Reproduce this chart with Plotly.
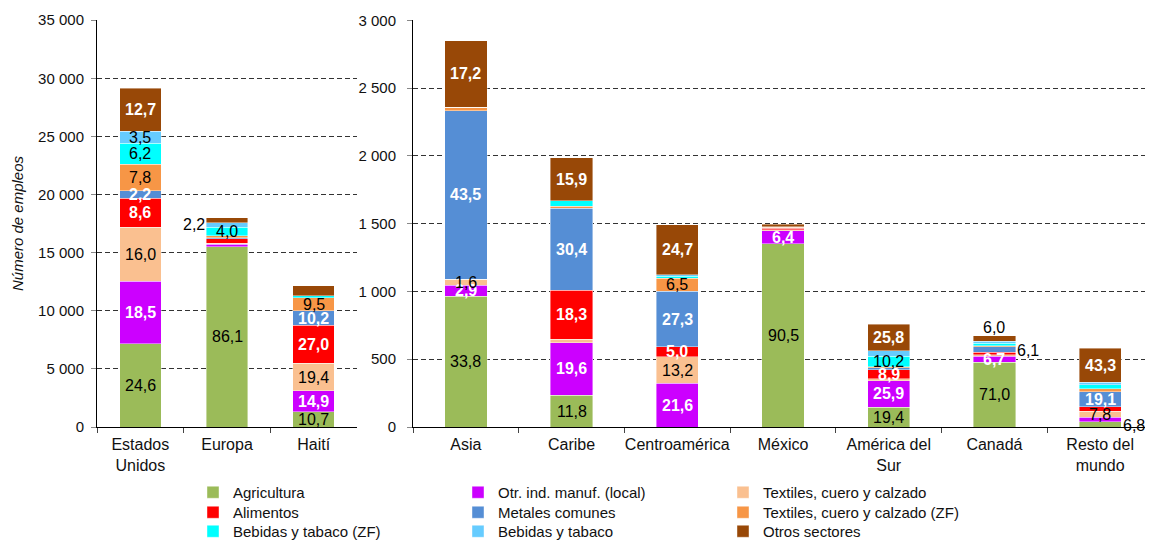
import plotly.graph_objects as go

# ---------------- data ----------------
SECTORS = [
    "Agricultura",
    "Otr. ind. manuf. (local)",
    "Textiles, cuero y calzado",
    "Alimentos",
    "Metales comunes",
    "Textiles, cuero y calzado (ZF)",
    "Bebidas y tabaco (ZF)",
    "Bebidas y tabaco",
    "Otros sectores",
]
KEYS = ["agri", "otr", "text", "alim", "metal", "textzf", "bebzf", "beb", "otros"]

LEFT_CATS = ["Estados<br>Unidos", "Europa", "Haití"]
LEFT_TOTALS = [29100, 18000, 12150]          # number of jobs (bar height)

RIGHT_CATS = ["Asia", "Caribe", "Centroamérica", "México", "América del<br>Sur", "Canadá", "Resto del<br>mundo"]
RIGHT_TOTALS = [2850, 1985, 1490, 1495, 757, 673, 580]

# shares (%) of each sector in each destination's total
AGRI_L = [24.6, 86.1, 10.7]
OTR_L = [18.5, 1.2, 14.9]
TEXT_L = [16.0, 0.6, 19.4]
ALIM_L = [8.6, 2.1, 27.0]
METAL_L = [2.2, 0.5, 10.2]
TEXTZF_L = [7.8, 1.0, 9.5]
BEBZF_L = [6.2, 4.0, 1.2]
BEB_L = [3.5, 2.2, 0.0]
OTROS_L = [12.7, 2.3, 7.1]

AGRI_R = [33.8, 11.8, 0.0, 90.5, 19.4, 71.0, 6.8]
OTR_R = [2.9, 19.6, 21.6, 6.4, 25.9, 6.7, 5.4]
TEXT_R = [1.6, 1.2, 13.2, 0.4, 1.5, 1.5, 7.8]
ALIM_R = [0.0, 18.3, 5.0, 0.8, 8.9, 2.5, 5.8]
METAL_R = [43.5, 30.4, 27.3, 0.3, 2.0, 6.1, 19.1]
TEXTZF_R = [0.9, 0.8, 6.5, 0.2, 0.8, 1.5, 4.0]
BEBZF_R = [0.0, 1.9, 1.0, 0.1, 10.2, 2.7, 5.0]
BEB_R = [0.1, 0.1, 0.7, 0.1, 5.5, 2.0, 2.8]
OTROS_R = [17.2, 15.9, 24.7, 1.2, 25.8, 6.0, 43.3]

SHARES_L = [AGRI_L, OTR_L, TEXT_L, ALIM_L, METAL_L, TEXTZF_L, BEBZF_L, BEB_L, OTROS_L]
SHARES_R = [AGRI_R, OTR_R, TEXT_R, ALIM_R, METAL_R, TEXTZF_R, BEBZF_R, BEB_R, OTROS_R]

# which segments carry a data label
LABELED_L = [
    ["agri", "otr", "text", "alim", "metal", "textzf", "bebzf", "beb", "otros"],
    ["agri", "bebzf", "beb"],
    ["agri", "otr", "text", "alim", "metal", "textzf"],
]
LABELED_R = [
    ["agri", "otr", "text", "metal", "otros"],
    ["agri", "otr", "alim", "metal", "otros"],
    ["otr", "text", "alim", "metal", "textzf", "otros"],
    ["agri", "otr"],
    ["agri", "otr", "alim", "bebzf", "otros"],
    ["agri", "otr", "metal", "otros"],
    ["agri", "text", "metal", "otros"],
]

# ---------------- style ----------------
COLORS = ["#9BBB59", "#CC00FF", "#FAC090", "#FF0000", "#558ED5",
          "#F79646", "#00FFFF", "#66CCFF", "#984807"]
DARK = {"otr", "alim", "metal", "otros"}
OUTSIDE = {  # (panel, category index, key) -> placement
    (0, 1, "beb"): "left",
    (1, 5, "metal"): "right",
    (1, 5, "otros"): "top",
    (1, 6, "agri"): "right",
}
FONT = "Liberation Sans, Arial, sans-serif"
OFF = 8                      # page body margin of the html page
W, H = 1153 - OFF, 540 - OFF


def px(xr):                  # reference x pixel -> figure paper fraction
    return (xr - OFF) / W


PLOT_TOP, PLOT_BOT = 20 - OFF, 427 - OFF
PH = PLOT_BOT - PLOT_TOP


def py(yr):                  # reference y pixel -> paper y (plot-area based)
    return (PLOT_BOT - (yr - OFF)) / PH


panels = [
    dict(cats=LEFT_CATS, totals=LEFT_TOTALS, shares=SHARES_L, labeled=LABELED_L,
         xa="x", ya="y", width=0.48),
    dict(cats=RIGHT_CATS, totals=RIGHT_TOTALS, shares=SHARES_R, labeled=LABELED_R,
         xa="x2", ya="y2", width=0.40),
]

fig = go.Figure()
annotations = []
legend_ids = ["legend", "legend2", "legend3"]

for p_i, p in enumerate(panels):
    for s_i, key in enumerate(KEYS):
        vals = [t * s / 100.0 for t, s in zip(p["totals"], p["shares"][s_i])]
        fig.add_trace(go.Bar(
            x=p["cats"], y=vals, name=SECTORS[s_i],
            marker=dict(color=COLORS[s_i], line=dict(color="rgba(255,255,255,0.7)", width=0.6)),
            width=p["width"], xaxis=p["xa"], yaxis=p["ya"],
            showlegend=(p_i == 0), legend=legend_ids[s_i // 3],
            hovertemplate="%{x}: %{y:.0f}<extra>" + SECTORS[s_i] + "</extra>",
        ))
    # data labels
    for c_i, cat in enumerate(p["cats"]):
        cum = 0.0
        for s_i, key in enumerate(KEYS):
            share = p["shares"][s_i][c_i]
            v = p["totals"][c_i] * share / 100.0
            if key in p["labeled"][c_i]:
                txt = f"{share:.1f}".replace(".", ",")
                mode = OUTSIDE.get((p_i, c_i, key), "in")
                ann = dict(x=cat, y=cum + v / 2.0, xref=p["xa"], yref=p["ya"],
                           text=txt, showarrow=False,
                           font=dict(family=FONT, size=16, color="black"))
                if mode == "in":
                    if key in DARK:
                        ann["font"] = dict(family=FONT, size=16, color="white", weight="bold")
                elif mode == "left":
                    ann.update(xanchor="right", xshift=-20)
                elif mode == "right":
                    ann.update(xanchor="left", xshift=21, yshift=-1)
                elif mode == "top":
                    ann.update(y=cum + v, yanchor="bottom", yshift=-2)
                annotations.append(ann)
            cum += v

grid = dict(showgrid=True, gridcolor="#333333", griddash="5px,3px", gridwidth=1)
yax_common = dict(showline=True, linecolor="black", linewidth=1, ticks="outside",
                  ticklen=5, tickcolor="#888", zeroline=False, tickformat=",.0f",
                  tickfont=dict(family=FONT, size=15, color="#111"), **grid)
xax_common = dict(type="category", showline=True, linecolor="black", linewidth=1,
                  ticks="outside", tickson="boundaries", ticklen=5, tickcolor="#444",
                  showgrid=False, zeroline=False, tickangle=0, automargin=False,
                  ticklabelstandoff=3,
                  tickfont=dict(family=FONT, size=16, color="#111"))

legend_common = dict(xanchor="left", yanchor="top", orientation="h", traceorder="normal",
                     font=dict(family=FONT, size=15, color="#111"), itemwidth=30,
                     entrywidth=220, entrywidthmode="pixels",
                     bgcolor="rgba(0,0,0,0)", x=px(193))

fig.update_layout(
    width=W, height=H,
    margin=dict(l=0, r=0, t=PLOT_TOP, b=H - PLOT_BOT, autoexpand=False),
    paper_bgcolor="white", plot_bgcolor="white",
    barmode="stack", separators=", ",
    font=dict(family=FONT, size=15, color="#111"),
    xaxis=dict(domain=[px(97), px(357)], range=[-0.5, 2.5], anchor="y", **xax_common),
    yaxis=dict(range=[0, 35020], dtick=5000, anchor="x", ticklabelstandoff=4,
               title=dict(text="<i>Número de empleos</i>", standoff=10,
                          font=dict(family=FONT, size=15, color="#111")),
               **yax_common),
    xaxis2=dict(domain=[px(413), 1.0], range=[-0.5, 6.5], anchor="y2", **xax_common),
    yaxis2=dict(range=[0, 3002], dtick=500, anchor="x2", ticklabelstandoff=8, **yax_common),
    legend=dict(y=py(493 - 17), **legend_common),
    legend2=dict(y=py(513 - 17), **legend_common),
    legend3=dict(y=py(532 - 17), **legend_common),
    annotations=annotations,
    showlegend=True,
)

fig.write_html("out.html")
